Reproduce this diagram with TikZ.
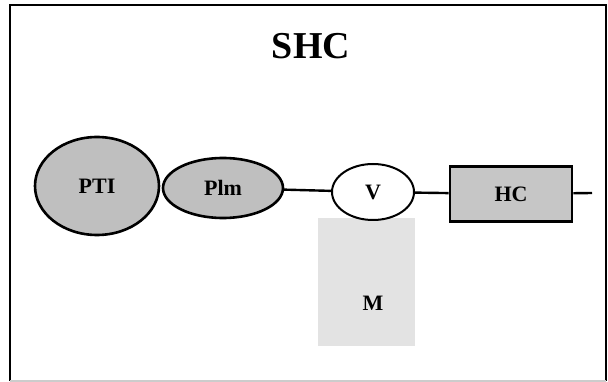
\documentclass[tikz,border=0pt]{standalone}
\usepackage{fontspec}
\setmainfont{Liberation Serif}
\usetikzlibrary{positioning}
\usetikzlibrary{shapes.geometric}

\begin{document}
\begin{tikzpicture}[x=1pt, y=-1pt, thick,
    font=\bfseries\fontsize{22}{24}\selectfont,
    blob/.style={draw, ellipse, line width=2.6pt, fill=gray!50, inner sep=0pt},
    unit/.style={draw, rectangle, line width=2.8pt, fill=gray!45, inner sep=0pt}]
        \useasboundingbox (0,0) rectangle (608,382);
        \draw[line width=1.5pt] (10,381) -- (10,5) -- (606,5) -- (606,381);
        \draw[gray!40, line width=1.5pt] (10,381) -- (606,381);

        \node (title) at (311,46) {\fontsize{38}{42}\selectfont SHC};

        \node[fill=gray!22, minimum width=97pt, minimum height=127pt] (lowbox) at (366,282) {};
        \node (low) at (373,303) {M};

        \node[blob, minimum width=124pt, minimum height=98pt] (pti) at (97,186) {PTI};
        \node[blob, minimum width=120pt, minimum height=60pt] (plm) at (223,188) {Plm};
        \node[draw, ellipse, line width=2pt, fill=white, minimum width=82pt, minimum height=56pt] (mid) at (373,192) {V};
        \node[unit, minimum width=122pt, minimum height=55pt] (hc) at (511,194) {HC};
        \coordinate (out) at (592,193);

        \draw[line width=2.4pt] (plm) -- (mid);
        \draw[line width=2.4pt] (mid) -- (hc);
        \draw[line width=2.4pt] (hc) -- (out);
    \end{tikzpicture}
\end{document}
